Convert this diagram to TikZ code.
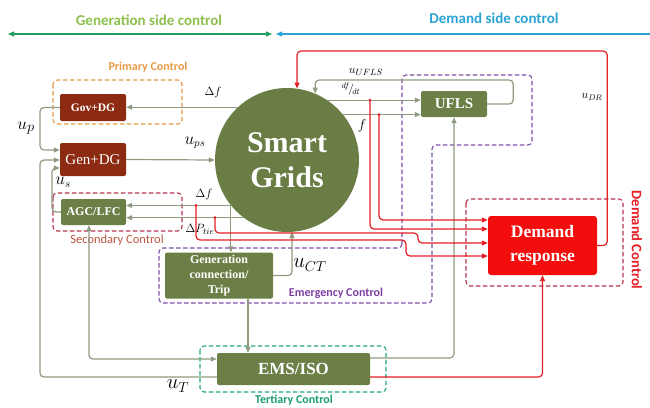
\documentclass[tikz,border=0pt]{standalone}
\usepackage{fontspec}
\setmainfont{Liberation Serif}
\newfontfamily\lab{Carlito}
\usetikzlibrary{arrows.meta}
\definecolor{cGenT}{HTML}{8DC04F}
\definecolor{cGenA}{HTML}{1E9E5A}
\definecolor{cBlue}{HTML}{2AA3D4}
\definecolor{cOrange}{HTML}{E59A45}
\definecolor{cBrown}{HTML}{8C2A12}
\definecolor{cBoxG}{HTML}{6C7F46}
\definecolor{cCircle}{HTML}{6A7D45}
\definecolor{cGray}{HTML}{8E9B80}
\definecolor{cRed}{HTML}{E31E24}
\definecolor{cDR}{HTML}{F40D0D}
\definecolor{cSec}{HTML}{B5344E}
\definecolor{cSecT}{HTML}{B8563F}
\definecolor{cPurp}{HTML}{7D4FA8}
\definecolor{cPurpT}{HTML}{7B3FA0}
\definecolor{cTeal}{HTML}{25A77A}
\definecolor{cTealT}{HTML}{1A9C74}
\begin{document}
\begin{tikzpicture}[x=1pt,y=-1pt,
  tip/.style={-{Triangle[length=6pt,width=5pt]}},
  garr/.style={draw=cGray, line width=1.2pt, rounded corners=4pt, tip},
  rarr/.style={draw=cRed, line width=1.2pt, rounded corners=4pt, tip},
  box/.style={rectangle, rounded corners=2pt, text=white, align=center, inner sep=0pt},
  gbox/.style={box, fill=cBoxG},
  bbox/.style={box, fill=cBrown},
  grp/.style={dashed, line width=1.1pt, rounded corners=4pt, dash pattern=on 4.5pt off 2.5pt},
  mlab/.style={inner sep=0pt},
  dot/.style={circle, fill=cRed, inner sep=0pt, minimum size=3pt}]
\useasboundingbox (0,0) rectangle (650,407);

% top headers
\node[text=cGenT, font=\lab\bfseries\fontsize{15}{17}\selectfont] (gst) at (149,20) {Generation side control};
\node[text=cBlue, font=\lab\bfseries\fontsize{15}{17}\selectfont] (dst) at (494,18) {Demand side control};
\coordinate (gl) at (8,34); \coordinate (gr) at (272,34);
\coordinate (bl) at (276,34); \coordinate (br) at (650,34);
\draw[cGenA, line width=1.1pt, {Triangle[length=6pt,width=5pt]}-{Triangle[length=6pt,width=5pt]}] (gl) -- (gr);
\draw[cBlue, line width=1.1pt, {Triangle[length=6pt,width=5pt]}-] (bl) -- (br);

% group boxes
\draw[grp, cOrange] (53,80) rectangle (182,124);
\draw[grp, cSec] (53,193) rectangle (182,231);
\draw[grp, cPurp] (402,248) -- (402,75) -- (532,75) -- (532,145) -- (432,145) -- (432,303) -- (159,303) -- (159,248) -- cycle;
\draw[grp, cTeal] (200,346) rectangle (386,392);
\draw[grp, cSec] (466,199) rectangle (623,286);

\node[text=cOrange, font=\lab\bfseries\fontsize{12}{14}\selectfont] (pcl) at (148,67) {Primary Control};
\node[text=cSecT, font=\lab\fontsize{12.5}{14}\selectfont] (scl) at (117,240) {Secondary Control};
\node[text=cPurpT, font=\lab\bfseries\fontsize{12}{14}\selectfont] (ecl) at (336,293) {Emergency Control};
\node[text=cTealT, font=\lab\bfseries\fontsize{12}{14}\selectfont] (tcl) at (294,400) {Tertiary Control};
\node[text=cRed, font=\lab\bfseries\fontsize{14.5}{16}\selectfont, rotate=-90] (dcl) at (637,240) {Demand Control};

% main nodes
\node[circle, fill=cCircle, minimum size=144pt, inner sep=0pt, text=white, align=center,
  font=\bfseries\fontsize{30}{35}\selectfont] (sg) at (287,160) {Smart\\Grids};
\node[bbox, minimum width=66pt, minimum height=27pt, font=\bfseries\fontsize{11.5}{13}\selectfont] (gov) at (93,107.5) {Gov+DG};
\node[bbox, minimum width=66pt, minimum height=33pt, font=\fontsize{15}{17}\selectfont] (gen) at (93,159.5) {Gen+DG};
\node[gbox, minimum width=65pt, minimum height=26pt, font=\bfseries\fontsize{12}{14}\selectfont] (agc) at (93.5,212) {AGC/LFC};
\node[gbox, minimum width=66pt, minimum height=26pt, font=\bfseries\fontsize{15}{17}\selectfont] (ufls) at (454,104) {UFLS};
\node[gbox, minimum width=108pt, minimum height=46pt, font=\bfseries\fontsize{12}{15}\selectfont] (gct) at (219,275.5) {Generation\\connection/\\Trip};
\node[gbox, minimum width=153pt, minimum height=32pt, font=\bfseries\fontsize{17}{19}\selectfont] (ems) at (293.5,369) {EMS/ISO};
\node[box, fill=cDR, rounded corners=3pt, minimum width=109pt, minimum height=59pt, font=\bfseries\fontsize{17.5}{24}\selectfont] (dr) at (542.5,245.5) {Demand\\response};

% generation side connectors
\draw[garr] (sg.133) -- (sg.133 -| gov.east);
\draw[garr] (gov.west) -- (40,107.5) |- (gen.west |- 0,150);
\draw[garr] (gen.east) -- (sg.west);
\draw[garr] (ems.west |- 0,377) -| (40,160) -- (gen.west |- 0,160);
\draw[garr] (agc.west) -- (52,212) |- (gen.west |- 0,168);
\draw[garr] (sg.219) -- (sg.219 -| agc.east);
\draw[garr] (sg.233) -- (sg.233 -| agc.east);
\draw[garr] (sg.219) -- (sg.219 |- gct.north);
\draw[garr] (gct.east) -| (sg.274);
\draw[garr] (gct.south -| 248,0) -- (ems.north -| 248,0);
\draw[garr, {Triangle[length=6pt,width=5pt]}-{Triangle[length=6pt,width=5pt]}] (agc.south -| 89,0) |- (ems.west |- 0,359);

% demand side connectors
\draw[garr] (sg.56) -- (sg.56 -| ufls.west);
\draw[garr] (sg.39) -- (sg.39 -| ufls.west);
\draw[garr] (ufls.east) -- ++(26,0) |- (sg.67 |- 0,80) -- (sg.67);
\draw[garr] (ems.east |- 0,358) -| (ufls.south);
\draw[rarr] (ems.east |- 0,377) -| (dr.south);
\draw[rarr] (dr.east) -- ++(10,0) |- (sg.82 |- 0,51) -- (sg.82);

% red feeds to demand response
\node[dot] (d1) at (sg.39 -| 379,0) {};
\node[dot] (d2) at (sg.56 -| 370,0) {};
\node[dot] (d3) at (sg.233 -| 215,0) {};
\node[dot] (d4) at (sg.219 -| 196,0) {};
\draw[rarr] (d1.center) |- (dr.west |- 0,220);
\draw[rarr] (d2.center) |- (dr.west |- 0,229);
\draw[rarr] (d3.center) |- (418,233) |- (dr.west |- 0,243);
\draw[rarr] (d4.center) |- (406,240) |- (dr.west |- 0,256);

% math labels
\node[mlab, font=\fontsize{12}{14}\selectfont] (l1) at (213,92) {$\Delta f$};
\node[mlab, font=\fontsize{19}{21}\selectfont] (l2) at (26,128) {$u_p$};
\node[mlab, font=\fontsize{16}{18}\selectfont] (l3) at (195,143) {$u_{ps}$};
\node[mlab, font=\fontsize{16}{18}\selectfont] (l4) at (63,182) {$u_s$};
\node[mlab, font=\fontsize{12}{14}\selectfont] (l5) at (204,194) {$\Delta f$};
\node[mlab, font=\fontsize{13}{15}\selectfont] (l6) at (200,229) {$\Delta P_{tie}$};
\node[mlab, font=\fontsize{13}{15}\selectfont] (l7) at (366,72) {$u_{UFLS}$};
\node[mlab, font=\fontsize{11}{13}\selectfont] (l8) at (351,89) {$^{df}\!/_{\!dt}$};
\node[mlab, font=\fontsize{15}{17}\selectfont] (l9) at (362,126) {$f$};
\node[mlab, font=\fontsize{20}{22}\selectfont] (l10) at (310,265) {$u_{CT}$};
\node[mlab, font=\fontsize{20}{22}\selectfont] (l11) at (178,386) {$u_T$};
\node[mlab, font=\fontsize{12}{14}\selectfont] (l12) at (592,97) {$u_{DR}$};
\end{tikzpicture}
\end{document}
